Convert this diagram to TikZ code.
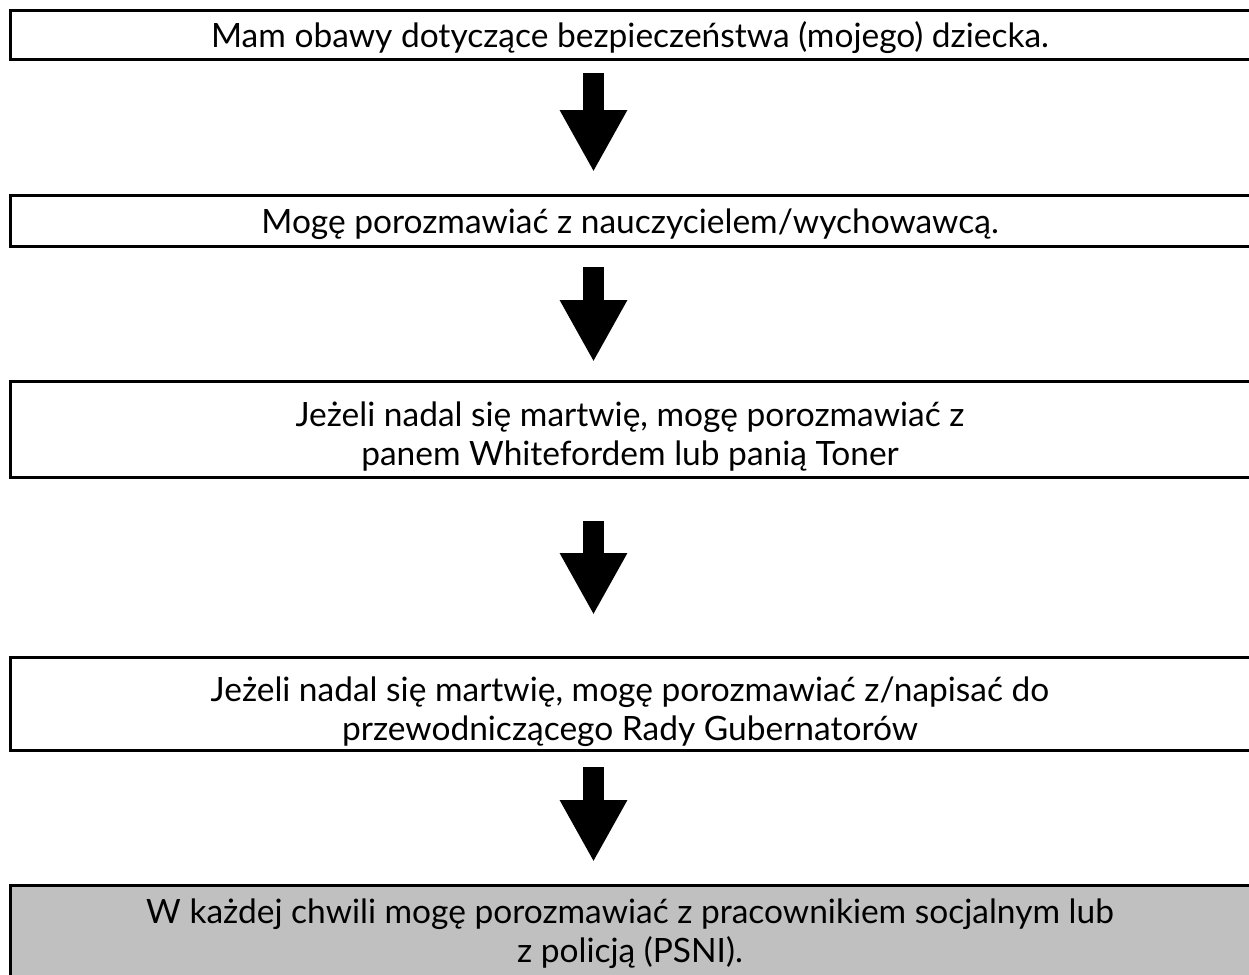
\documentclass[tikz,border=0pt]{standalone}
\usepackage{fontspec}
\setmainfont{Lato}
\usepackage{tikz}
\usetikzlibrary{arrows.meta,positioning}

\begin{document}
\begin{tikzpicture}[x=1pt,y=-1pt,
    box/.style={draw, line width=3pt, minimum width=1243pt, inner sep=0pt, outer sep=0pt, anchor=north west},
    txt/.style={font=\fontsize{33.5}{39}\selectfont, align=center, anchor=base},
    bigarrow/.style={line width=21pt, -{Triangle[width=63pt,length=62pt]}}]
   \useasboundingbox (0,0) rectangle (1249,974);
   \clip (0,0) rectangle (1249,974);
   % boxes
   \node[box, minimum height=49pt] (B1) at (10,11) {};
   \node[box, minimum height=51pt] (B2) at (10,195) {};
   \node[box, minimum height=96pt] (B3) at (10,381) {};
   \node[box, minimum height=93pt] (B4) at (10,657) {};
   \node[box, minimum height=120pt, fill={rgb,255:red,192;green,192;blue,192}] (B5) at (10,885) {};
   % texts (base = last line)
   \node[txt] (T1) at (630,48) {Mam obawy dotyczące bezpieczeństwa (mojego) dziecka.};
   \node[txt] (T2) at (630,233) {Mogę porozmawiać z nauczycielem/wychowawcą.};
   \node[txt] (T3) at (630,465) {Jeżeli nadal się martwię, mogę porozmawiać z\\panem Whitefordem lub panią Toner};
   \node[txt] (T4) at (630,740) {Jeżeli nadal się martwię, mogę porozmawiać z/napisać do\\przewodniczącego Rady Gubernatorów};
   \node[txt] (T5) at (630,962) {W każdej chwili mogę porozmawiać z pracownikiem socjalnym lub\\z policją (PSNI).};
   % arrows
   \coordinate (A1s) at (593.5,73);  \coordinate (A1e) at (593.5,172);
   \coordinate (A2s) at (593.5,267); \coordinate (A2e) at (593.5,362);
   \coordinate (A3s) at (593.5,521); \coordinate (A3e) at (593.5,615);
   \coordinate (A4s) at (593.5,767); \coordinate (A4e) at (593.5,862);
   \foreach \i in {1,...,4}
      \draw[bigarrow] (A\i s) -- (A\i e);
\end{tikzpicture}
\end{document}
